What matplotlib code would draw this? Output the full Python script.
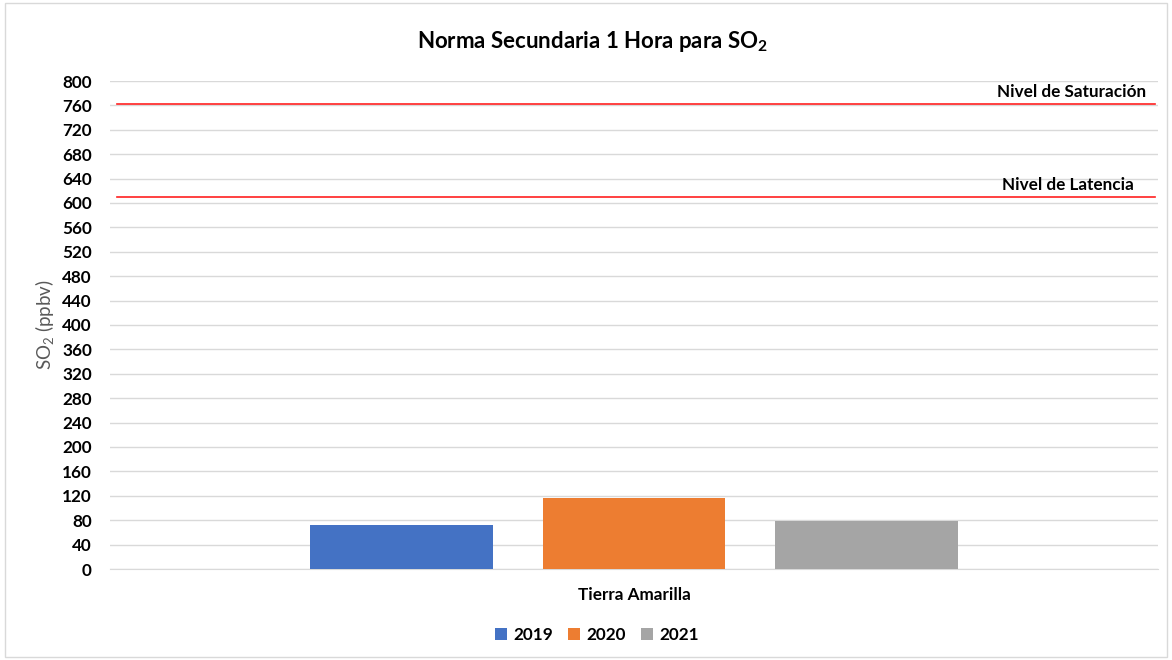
import matplotlib
matplotlib.use("Agg")
import matplotlib.pyplot as plt
from matplotlib.patches import Rectangle
import numpy as np

plt.rcParams['font.family'] = ['Lato', 'DejaVu Sans']
plt.rcParams['mathtext.fontset'] = 'custom'
plt.rcParams['mathtext.rm'] = 'Lato'
plt.rcParams['mathtext.bf'] = 'Lato:bold'

station = ["Tierra Amarilla"]
years = ["2019", "2020", "2021"]
values = [72, 116, 79]
colors = ["#4472C4", "#ED7D31", "#A5A5A5"]
saturation = 763
latency = 610
yticks = list(range(0, 801, 40))

fig = plt.figure(figsize=(11.72, 6.6), dpi=100)
ax = fig.add_axes([110/1172, 1-569/660, 1048/1172, 488/660])

bw = 0.1746
step = 0.2214
for i, (y, v, c) in enumerate(zip(years, values, colors)):
    ax.bar((i-1)*step, v, width=bw, color=c, label=y, zorder=3)

fs = 12.3
ax.set_xlim(-0.5, 0.5)
ax.set_ylim(0, 800)
ax.set_yticks(yticks)
ax.set_yticklabels([str(t) for t in yticks], fontweight='bold', fontsize=fs)
ax.set_xticks([0])
ax.set_xticklabels(station, fontweight='bold', fontsize=fs)
ax.tick_params(axis='y', length=0, pad=13)
ax.tick_params(axis='x', length=0, pad=13)
ax.grid(axis='y', color='#d9d9d9', linewidth=1, zorder=0)
for s in ['top', 'right', 'left']:
    ax.spines[s].set_visible(False)
ax.spines['bottom'].set_color('#d9d9d9')

ax.axhline(saturation, xmin=7/1048, xmax=1045/1048, color='#ff2020', linewidth=1.2, zorder=4)
ax.axhline(latency, xmin=7/1048, xmax=1045/1048, color='#ff2020', linewidth=1.2, zorder=4)
ax.text(0.5 - 12/1048, saturation + 6, "Nivel de Saturación", ha='right', va='bottom',
        fontweight='bold', fontsize=fs)
ax.text(0.5 - 24/1048, latency + 6, "Nivel de Latencia", ha='right', va='bottom',
        fontweight='bold', fontsize=fs)

ax.set_ylabel("SO$_2$ (ppbv)", color='#595959', fontsize=13.5, labelpad=4)

fig.text(592/1172, 1-42/660, "Norma Secundaria 1 Hora para SO$_\\mathbf{2}$", ha='center', va='center',
         fontweight='bold', fontsize=16)

leg = fig.legend(loc='center', bbox_to_anchor=(597/1172, 1-635/660), ncol=3, frameon=False,
                 prop={'weight': 'bold', 'size': fs}, handlelength=0.7, handleheight=0.7,
                 columnspacing=0.9, handletextpad=0.35)

fig.patches.append(Rectangle((5/1172, 3/660), 1162/1172, 654/660, transform=fig.transFigure,
                             fill=False, edgecolor='#d9d9d9', linewidth=1))

fig.savefig("out.png", dpi=100)
